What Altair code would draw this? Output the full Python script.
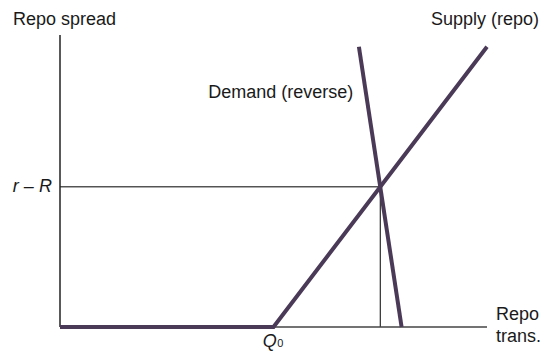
import altair as alt
import pandas as pd

# ---- data (arbitrary units 0..100) ----
supply_q = [0, 50, 100]
supply_p = [0, 0, 96]
demand_q = [70, 80]
demand_p = [96, 0]
eq_q = 75
eq_p = 48
axis_q_max = 100
axis_p_max = 100

label_text = ["Repo spread", "Supply (repo)", "Demand (reverse)", "Repo", "trans."]
label_q = [-11.0, 86.9, 34.7, 102.1, 102.1]
label_p = [103.4, 103.4, 78.4, 2.4, -5.1]

italic_text = ["r \u2013 R", "Q"]
italic_q = [-1.9, 47.5]
italic_p = [46.2, -6.8]
italic_align = ["right", "left"]

sub_text = ["0"]
sub_q = [50.9]
sub_p = [-6.8]

FONT = "Liberation Sans"
PURPLE = "#4a3a57"
TXT = "#1a1a1a"
FS = 18

xs = alt.Scale(domain=[0, axis_q_max], nice=False, zero=False)
ys = alt.Scale(domain=[0, axis_p_max], nice=False, zero=False)

axes_df = pd.DataFrame({
    "q0": [0, 0], "q1": [0, axis_q_max],
    "p0": [0, 0], "p1": [axis_p_max, 0],
    "kind": ["y", "x"],
})
guide_df = pd.DataFrame({
    "q0": [0, eq_q], "q1": [eq_q, eq_q],
    "p0": [eq_p, 0], "p1": [eq_p, eq_p],
})
supply_df = pd.DataFrame({"q": supply_q, "p": supply_p, "o": list(range(len(supply_q)))})
demand_df = pd.DataFrame({"q": demand_q, "p": demand_p, "o": list(range(len(demand_q)))})
lab_df = pd.DataFrame({"t": label_text, "q": label_q, "p": label_p})
it_df = pd.DataFrame({"t": italic_text, "q": italic_q, "p": italic_p, "a": italic_align})
sub_df = pd.DataFrame({"t": sub_text, "q": sub_q, "p": sub_p})

X = lambda f: alt.X(f, scale=xs, axis=None)
Y = lambda f: alt.Y(f, scale=ys, axis=None)

yaxis = alt.Chart(axes_df[axes_df.kind == "y"]).mark_rule(color="#222222", strokeWidth=1.5).encode(
    x=X("q0:Q"), x2="q1:Q", y=Y("p0:Q"), y2="p1:Q")
xaxis = alt.Chart(axes_df[axes_df.kind == "x"]).mark_rule(color="#444444", strokeWidth=1.5).encode(
    x=X("q0:Q"), x2="q1:Q", y=Y("p0:Q"), y2="p1:Q")
guides = alt.Chart(guide_df).mark_rule(color="#000000", strokeWidth=1).encode(
    x=X("q0:Q"), x2="q1:Q", y=Y("p0:Q"), y2="p1:Q")

supply = alt.Chart(supply_df).mark_line(color=PURPLE, strokeWidth=4, strokeCap="butt", strokeJoin="miter").encode(
    x=X("q:Q"), y=Y("p:Q"), order="o:Q")
demand = alt.Chart(demand_df).mark_line(color=PURPLE, strokeWidth=4, strokeCap="butt").encode(
    x=X("q:Q"), y=Y("p:Q"), order="o:Q")

labels = alt.Chart(lab_df).mark_text(font=FONT, fontSize=FS, align="left", baseline="alphabetic",
                                     color=TXT).encode(x=X("q:Q"), y=Y("p:Q"), text="t:N")
it_r = alt.Chart(it_df[it_df.a == "right"]).mark_text(font=FONT, fontSize=FS, fontStyle="italic", align="right",
                                                    baseline="alphabetic", color=TXT).encode(
    x=X("q:Q"), y=Y("p:Q"), text="t:N")
it_l = alt.Chart(it_df[it_df.a == "left"]).mark_text(font=FONT, fontSize=FS, fontStyle="italic", align="left",
                                                   baseline="alphabetic", color=TXT).encode(
    x=X("q:Q"), y=Y("p:Q"), text="t:N")
sub = alt.Chart(sub_df).mark_text(font=FONT, fontSize=11, align="left", baseline="alphabetic",
                                  color=TXT).encode(x=X("q:Q"), y=Y("p:Q"), text="t:N")

chart = alt.layer(guides, xaxis, yaxis, supply, demand, labels, it_r, it_l, sub).properties(
    width=427, height=292,
    autosize=alt.AutoSizeParams(type="none"),
    padding={"left": 52, "top": 27, "right": 55, "bottom": 26},
    background="white",
).configure_view(stroke=None)

chart.save("out.html", embed_options={"renderer": "svg", "actions": False})
